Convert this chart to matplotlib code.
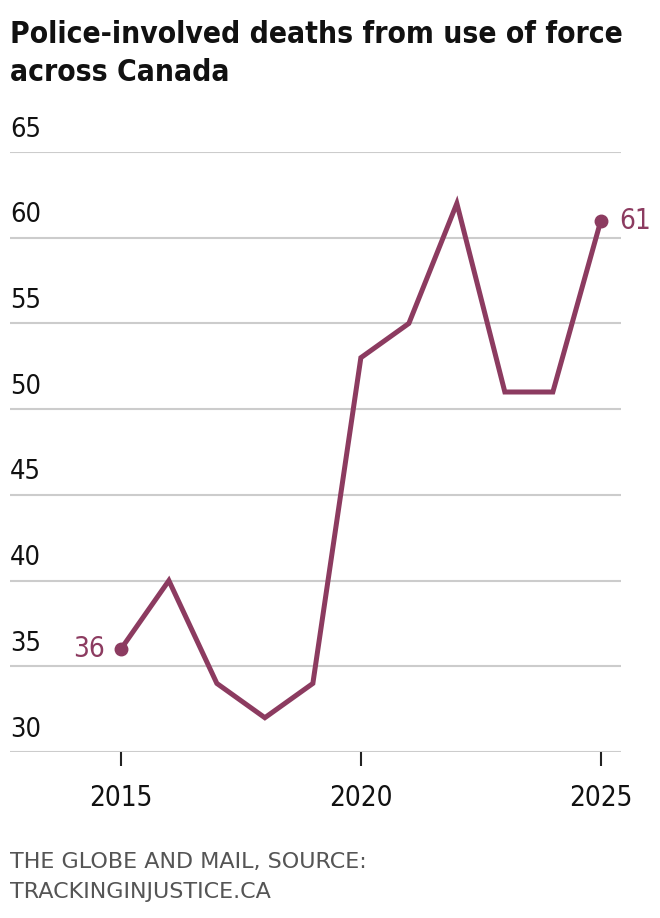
import matplotlib.pyplot as plt

years = [2015, 2016, 2017, 2018, 2019, 2020, 2021, 2022, 2023, 2024, 2025]
deaths = [36, 40, 34, 32, 34, 53, 55, 62, 51, 51, 61]
yticks = [30, 35, 40, 45, 50, 55, 60, 65]
xticks = [2015, 2020, 2025]
title = 'Police-involved deaths from use of force\nacross Canada'
source = 'THE GLOBE AND MAIL, SOURCE:\nTRACKINGINJUSTICE.CA'

plt.rcParams['font.family'] = ['DejaVu Sans']
plt.rcParams['font.stretch'] = 'condensed'

col = '#8c3b60'
fig = plt.figure(figsize=(6.6, 9.18), dpi=100)
ax = fig.add_axes([10/660, 1-752/918, 611/660, 600/918])

ax.plot(years, deaths, color=col, lw=3.6, solid_joinstyle='miter', zorder=3)
ax.plot([years[0], years[-1]], [deaths[0], deaths[-1]], 'o', color=col, ms=9, zorder=4)
ax.text(years[0] - 0.33, deaths[0], str(deaths[0]), color=col, fontsize=20,
        ha='right', va='center')
ax.text(years[-1] + 0.38, deaths[-1], str(deaths[-1]), color=col, fontsize=20,
        ha='left', va='center')

ax.set_xlim(2012.69, 2025.42)
ax.set_ylim(30, 65)
for y in yticks:
    ax.axhline(y, color='#cccccc', lw=1.5, zorder=1)
    ax.text(0, y + 0.55, str(y), transform=ax.get_yaxis_transform(),
            fontsize=19.5, color='#111111', ha='left', va='bottom')
ax.set_yticks([])
ax.set_xticks(xticks)
ax.set_xticklabels([str(x) for x in xticks], fontsize=20, color='#111111')
ax.tick_params(axis='x', length=10, width=1.5, color='#222222', pad=13)
for s in ax.spines.values():
    s.set_visible(False)

fig.text(10/660, 1-20/918, title, fontsize=21.5, fontweight='bold',
         ha='left', va='top', linespacing=1.37, color='#111111')
fig.text(10/660, 1-852/918, source, fontsize=16, fontstretch='normal',
         color='#555555', ha='left', va='top', linespacing=1.6)

fig.savefig('out.png', dpi=100)
